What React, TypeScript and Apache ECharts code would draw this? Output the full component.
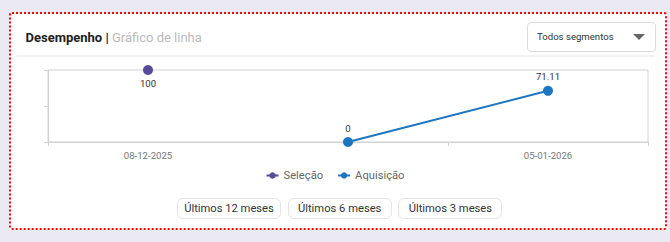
import React, { useEffect, useRef } from "react";
import * as echarts from "echarts";

const categories = ["08-12-2025", "22-12-2025", "05-01-2026"];
const selecaoValues: (number | null)[] = [100, null, null];
const aquisicaoValues: (number | null)[] = [null, 0, 71.11];
const seriesNames = ["Seleção", "Aquisição"];
const rangeButtons = ["Últimos 12 meses", "Últimos 6 meses", "Últimos 3 meses"];

const FONT = "Roboto, 'Noto Sans', sans-serif";

export default function App() {
  const ref = useRef<HTMLDivElement>(null);

  useEffect(() => {
    if (!ref.current) return;
    const chart = echarts.init(ref.current, undefined, { renderer: "svg" });
    chart.setOption({
      animation: false,
      textStyle: { fontFamily: FONT },
      grid: {
        left: 48,
        top: 70,
        width: 600,
        height: 72,
        show: true,
        borderColor: "#d2d2d2",
        borderWidth: 1,
        containLabel: false,
      },
      legend: {
        data: seriesNames,
        top: 165,
        left: "center",
        itemWidth: 12,
        itemHeight: 8,
        itemGap: 14,
        textStyle: { color: "#666", fontSize: 11.2, fontFamily: FONT },
      },
      xAxis: {
        type: "category",
        data: categories,
        boundaryGap: true,
        axisLine: { lineStyle: { color: "#d2d2d2" } },
        axisTick: { show: true, interval: 1, length: 4, lineStyle: { color: "#d2d2d2" } },
        axisLabel: { interval: 1, color: "#777", fontSize: 9.6, margin: 8, fontFamily: FONT },
        splitLine: { show: false },
      },
      yAxis: {
        type: "value",
        min: 0,
        max: 100,
        interval: 50,
        axisLine: { show: true, lineStyle: { color: "#d2d2d2" } },
        axisTick: { show: true, length: 4, lineStyle: { color: "#d2d2d2" } },
        axisLabel: { show: false },
        splitLine: { show: false },
      },
      series: [
        {
          name: seriesNames[0],
          type: "line",
          data: selecaoValues,
          color: "#574a9b",
          symbol: "circle",
          symbolSize: 10,
          lineStyle: { width: 2 },
          label: {
            show: true,
            position: "bottom",
            distance: 3,
            color: "#333",
            fontSize: 9.6,
            fontFamily: FONT,
          },
        },
        {
          name: seriesNames[1],
          type: "line",
          data: aquisicaoValues,
          color: "#1c76c0",
          symbol: "circle",
          symbolSize: 10,
          lineStyle: { width: 2 },
          label: {
            show: true,
            position: "top",
            distance: 4,
            color: "#333",
            fontSize: 9.6,
            fontFamily: FONT,
          },
        },
      ],
    });
    return () => chart.dispose();
  }, []);

  return (
    <div
      style={{
        position: "fixed",
        left: 0,
        top: 0,
        width: 670,
        height: 242,
        background: "#ebe9f3",
        fontFamily: FONT,
        overflow: "hidden",
      }}
    >
      <div
        style={{
          position: "absolute",
          left: 9,
          top: 12,
          width: 658,
          height: 218,
          boxSizing: "border-box",
          border: "2px dotted #ff0000",
          background: "#fff",
          borderRadius: 3,
        }}
      />
      <div
        style={{
          position: "absolute",
          left: 25.5,
          top: 29,
          height: 18,
          lineHeight: "18px",
          fontSize: 13,
          whiteSpace: "nowrap",
        }}
      >
        <span style={{ fontWeight: 700, color: "#222" }}>Desempenho |</span>
        <span style={{ color: "#bbb" }}> Gráfico de linha</span>
      </div>
      <div
        style={{
          position: "absolute",
          left: 16,
          top: 55,
          width: 639,
          height: 2,
          background: "#f2f2f2",
        }}
      />
      <div
        style={{
          position: "absolute",
          left: 527,
          top: 22,
          width: 129,
          height: 30,
          boxSizing: "border-box",
          border: "1px solid #dcdcdc",
          borderRadius: 4,
          background: "#fff",
        }}
      >
        <div
          style={{
            position: "absolute",
            left: 9,
            top: 0,
            lineHeight: "28px",
            fontSize: 9.6,
            color: "#333",
            whiteSpace: "nowrap",
          }}
        >
          Todos segmentos
        </div>
        <div
          style={{
            position: "absolute",
            left: 105,
            top: 11,
            width: 0,
            height: 0,
            borderLeft: "6px solid transparent",
            borderRight: "6px solid transparent",
            borderTop: "6px solid #666",
          }}
        />
      </div>
      <div ref={ref} style={{ position: "absolute", left: 0, top: 0, width: 670, height: 242 }} />
      <div
        style={{
          position: "absolute",
          left: 177,
          top: 198,
          display: "flex",
          gap: 6.7,
        }}
      >
        {rangeButtons.map((b) => (
          <div
            key={b}
            style={{
              width: 104,
              height: 21,
              boxSizing: "border-box",
              border: "1px solid #e4e4e4",
              borderRadius: 6,
              background: "#fff",
              color: "#333",
              fontSize: 11.2,
              lineHeight: "19px",
              textAlign: "center",
              whiteSpace: "nowrap",
            }}
          >
            {b}
          </div>
        ))}
      </div>
    </div>
  );
}
